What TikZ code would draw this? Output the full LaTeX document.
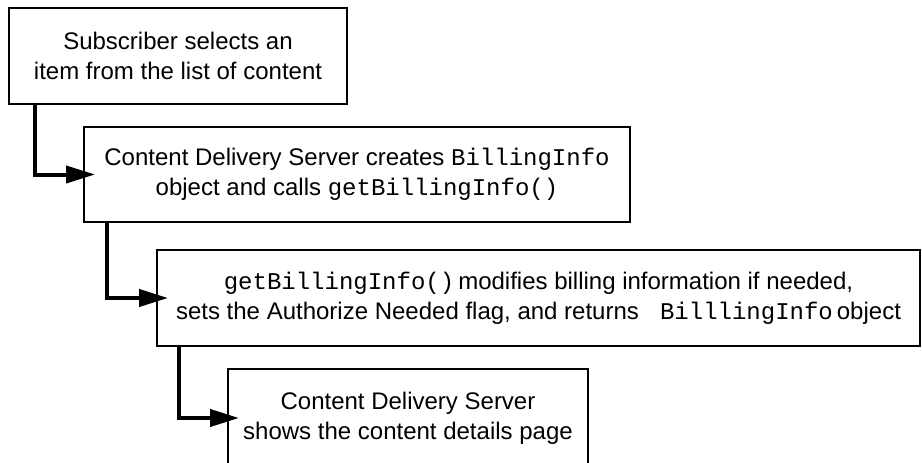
\documentclass[tikz,border=0pt]{standalone}
\usepackage{fontspec}
\setmainfont{Liberation Sans}
\setmonofont{Liberation Mono}
\usetikzlibrary{arrows.meta}
\begin{document}
\begin{tikzpicture}[x=1pt,y=-1pt,
  stepbox/.style={draw, line width=2pt, align=center, inner sep=0pt,
    font=\fontsize{24}{30}\selectfont},
  flow/.style={line width=4pt, -{Triangle[length=29pt,width=17pt]}}]
  % canvas
  \fill[white] (0,0) rectangle (922,463);
  \useasboundingbox (0,0) rectangle (922,463);

  % process steps
  \node[stepbox, minimum width=338pt, minimum height=96pt] (b1) at (178,56)
    {Subscriber selects an\\item from the list of content};
  \node[stepbox, minimum width=546pt, minimum height=95pt] (b2) at (357,174.5)
    {Content Delivery Server creates \texttt{BillingInfo}\\
     object and calls \texttt{getBillingInfo()}};
  \node[stepbox, minimum width=763pt, minimum height=96pt] (b3) at (538.5,298)
    {\texttt{getBillingInfo()}\,modifies billing information if needed,\\
     sets the Authorize Needed flag, and returns \texttt{ BilllingInfo}\,object};
  \node[stepbox, minimum width=360pt, minimum height=98pt] (b4) at (408,418)
    {Content Delivery Server\\shows the content details page};

  % elbow connectors
  \coordinate (k1) at (35,0);
  \coordinate (k2) at (107,0);
  \coordinate (k3) at (179,0);
  \draw[flow] (b1.south -| k1) |- ([xshift=12pt]b2.west);
  \draw[flow] (b2.south -| k2) |- ([xshift=12pt]b3.west);
  \draw[flow] (b3.south -| k3) |- ([xshift=12pt]b4.west);
\end{tikzpicture}
\end{document}
